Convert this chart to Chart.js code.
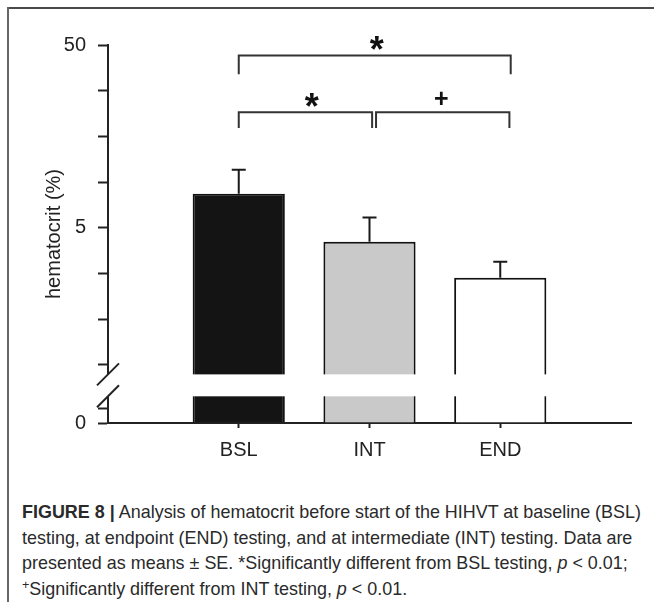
<!DOCTYPE html>
<html><head><meta charset="utf-8">
<script src="https://cdn.jsdelivr.net/npm/chart.js@4.4.1/dist/chart.umd.min.js"></script>
<style>
html,body{margin:0;padding:0;background:#fff;}
#wrap{position:relative;width:654px;height:602px;overflow:hidden;background:#fff;}
#c{position:absolute;left:0;top:0;}
.frameTop{position:absolute;left:7px;top:7px;width:647px;height:2px;background:#4a4a4a;}
.frameLeft{position:absolute;left:7px;top:7px;width:2px;height:595px;background:#666;}
#caption{position:absolute;left:22px;top:499px;font-family:'Liberation Sans',Arial,sans-serif;font-size:18.5px;line-height:25.5px;color:#2a2a2a;}
#caption .ln{white-space:nowrap;transform-origin:0 50%;height:25.5px;}
#caption .sp{font-size:13px;position:relative;top:-6px;}
</style></head>
<body><div id="wrap">
<div class="frameTop"></div><div class="frameLeft"></div>
<canvas id="c" width="654" height="480"></canvas>
<div id="caption">
<div class="ln"><span class="t"><b>FIGURE 8 |</b> Analysis of hematocrit before start of the HIHVT at baseline (BSL)</span></div>
<div class="ln"><span class="t">testing, at endpoint (END) testing, and at intermediate (INT) testing. Data are</span></div>
<div class="ln"><span class="t">presented as means ± SE. *Significantly different from BSL testing, <i>p</i> &lt; 0.01;</span></div>
<div class="ln"><span class="t"><span class="sp">+</span>Significantly different from INT testing, <i>p</i> &lt; 0.01.</span></div>
</div>
</div>
<script>
// ---- data ----
const categories = ['BSL', 'INT', 'END'];
const hematocritMean = [45.93, 44.62, 43.63];
const hematocritSE = [0.66, 0.66, 0.44];
const upperTickValues = [41.25, 42.5, 43.75, 45, 46.25, 47.5, 48.75, 50];
const upperTickLabels = ['', '', '', '5', '', '', '', '50'];
const lowerTickValues = [0, 0.41];
const lowerTickLabels = ['0', ''];
const barColors = ['#141414', '#c9c9c9', '#ffffff'];

// ---- broken axis settings ----
const AXIS_BASE = 39.66;
const AXIS_MAX = 50 - AXIS_BASE;
const BREAK_FROM = 0.73, BREAK_TO = 1.33;

// significance brackets (category index units, % units)
const brackets = [
  {x0: 1, x1: 3.08, yLine: 49.71, yEnd: 49.2, mark: '*', mx: 2.055, my: 50.1, size: 36},
  {x0: 1, x1: 2.02, yLine: 48.16, yEnd: 47.73, mark: '*', mx: 1.558, my: 48.55, size: 36},
  {x0: 2.05, x1: 3.07, yLine: 48.16, yEnd: 47.73, mark: '+', mx: 2.55, my: 48.52, size: 25}
];

const tickMap = [];
lowerTickValues.forEach((v, i) => tickMap.push({u: v, label: lowerTickLabels[i]}));
upperTickValues.forEach((v, i) => tickMap.push({u: v - AXIS_BASE, label: upperTickLabels[i]}));
function labelFor(u) {
  const t = tickMap.find(t => Math.abs(t.u - u) < 1e-6);
  return t ? t.label : '';
}

const FONT = "'Liberation Sans', Arial, sans-serif";
Chart.defaults.font.family = FONT;
Chart.defaults.color = '#222';

const annot = {
  id: 'annot',
  afterDatasetsDraw(chart) {
    const {ctx, scales: {x, y}} = chart;
    const u = v => y.getPixelForValue(v - AXIS_BASE);
    ctx.save();
    // axis break gap
    const yTop = y.getPixelForValue(BREAK_TO), yBot = y.getPixelForValue(BREAK_FROM);
    ctx.fillStyle = '#fff';
    ctx.fillRect(x.left - 4, yTop, x.right - x.left, yBot - yTop);
    ctx.strokeStyle = '#222';
    ctx.lineWidth = 2;
    const ax = y.right;
    [yTop, yBot].forEach(yc => {
      ctx.beginPath();
      ctx.moveTo(ax - 11, yc + 11);
      ctx.lineTo(ax + 11, yc - 11);
      ctx.stroke();
    });
    // error bars
    ctx.strokeStyle = '#1a1a1a';
    hematocritMean.forEach((m, i) => {
      const px = x.getPixelForValue(i + 1);
      const p0 = u(m), p1 = u(m + hematocritSE[i]);
      ctx.beginPath();
      ctx.moveTo(px, p0); ctx.lineTo(px, p1);
      ctx.moveTo(px - 7, p1); ctx.lineTo(px + 7, p1);
      ctx.stroke();
    });
    // brackets
    ctx.strokeStyle = '#333';
    ctx.fillStyle = '#111';
    ctx.textAlign = 'center';
    ctx.textBaseline = 'alphabetic';
    brackets.forEach(b => {
      const xa = x.getPixelForValue(b.x0), xb = x.getPixelForValue(b.x1);
      const yl = u(b.yLine), ye = u(b.yEnd);
      ctx.beginPath();
      ctx.moveTo(xa, ye); ctx.lineTo(xa, yl); ctx.lineTo(xb, yl); ctx.lineTo(xb, ye);
      ctx.stroke();
      ctx.font = 'bold ' + b.size + 'px ' + FONT;
      const off = b.mark === '*' ? 0.58 * b.size : 0.33 * b.size;
      ctx.fillText(b.mark, x.getPixelForValue(b.mx), u(b.my) + off);
    });
    ctx.restore();
  }
};

new Chart(document.getElementById('c'), {
  type: 'bar',
  data: {
    labels: ['', ...categories, ''],
    datasets: [{
      data: [null, ...hematocritMean.map(v => v - AXIS_BASE), null],
      backgroundColor: ['rgba(0,0,0,0)', ...barColors, 'rgba(0,0,0,0)'],
      borderColor: '#111',
      borderWidth: 2,
      barPercentage: 0.705,
      categoryPercentage: 1
    }]
  },
  options: {
    responsive: false,
    animation: false,
    events: [],
    layout: {padding: {left: 0, top: 45, right: 23, bottom: 0}},
    plugins: {legend: {display: false}, tooltip: {enabled: false}},
    scales: {
      x: {
        type: 'category',
        offset: false,
        afterFit(s) { s.height = 57; },
        ticks: {padding: 10, font: {size: 20}, color: '#222', autoSkip: false, maxRotation: 0},
        grid: {offset: false, drawOnChartArea: false, tickLength: 5, tickWidth: 2,
               tickColor: c => (c.index === 0 || c.index === 4) ? 'rgba(0,0,0,0)' : '#222'},
        border: {color: '#222', width: 2}
      },
      y: {
        type: 'linear',
        min: 0, max: AXIS_MAX,
        afterFit(s) { s.width = 108; },
        afterBuildTicks(s) { s.ticks = tickMap.map(t => ({value: t.u})); },
        ticks: {autoSkip: false, padding: 12, font: {size: 20}, color: '#222', callback: v => labelFor(v)},
        grid: {drawOnChartArea: false, tickLength: 10, tickWidth: 2, tickColor: '#222'},
        border: {color: '#222', width: 2},
        title: {display: true, text: 'hematocrit (%)', font: {size: 20}, color: '#222', padding: {top: 42, bottom: 0}}
      }
    }
  },
  plugins: [annot]
});

function fitCaption() {
  const spans = document.querySelectorAll('#caption .t');
  const w0 = spans[0].getBoundingClientRect().width;
  const s = 619 / w0;
  document.querySelectorAll('#caption .ln').forEach(el => el.style.transform = 'scaleX(' + s + ')');
}
fitCaption();
</script>
</body></html>
